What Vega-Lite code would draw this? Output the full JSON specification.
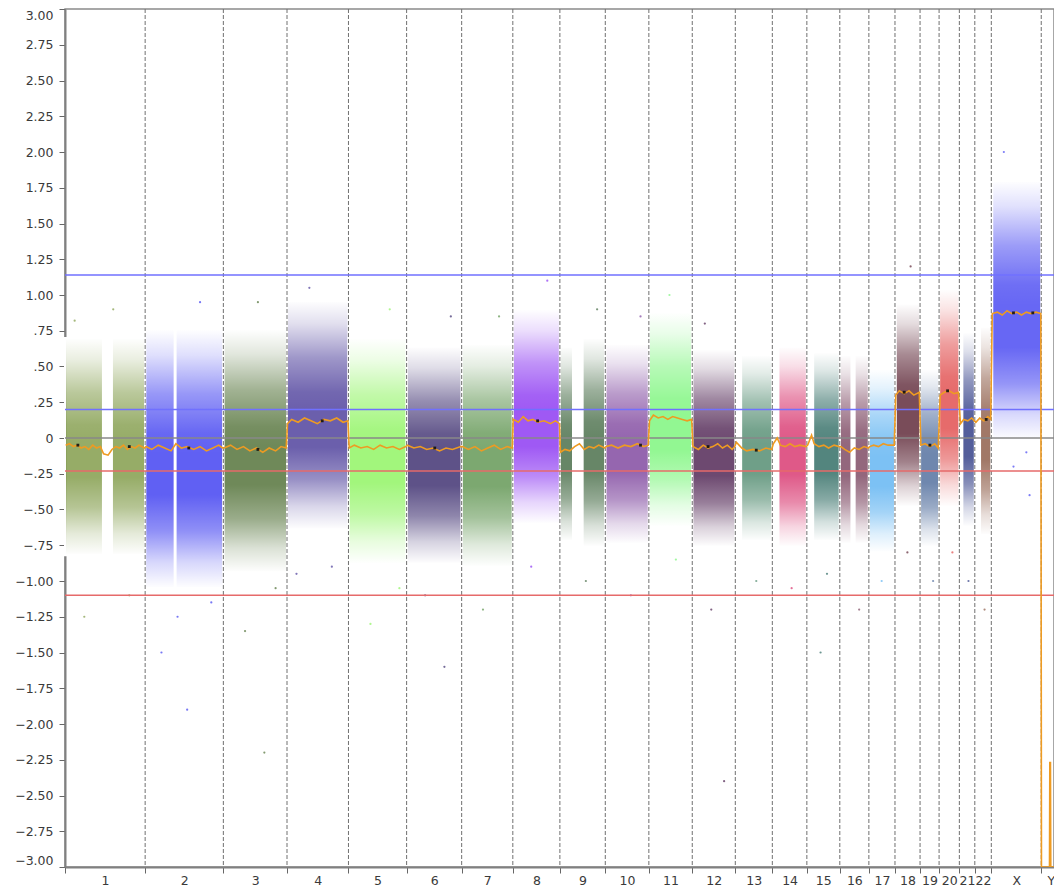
{
  "$schema": "https://vega.github.io/schema/vega-lite/v6.json",
  "width": 989,
  "height": 858,
  "autosize": {"type": "none"},
  "padding": {"left": 65, "top": 9, "right": 0, "bottom": 21},
  "background": "white",
  "config": {
    "view": {"stroke": "#8a8a8a", "strokeWidth": 1.5},
    "axis": {"labelFont": "DejaVu Sans", "labelFontSize": 12.5, "labelColor": "#3a3a3a", "domainColor": "#808080", "domainWidth": 2, "tickColor": "#666666", "grid": false, "title": null, "labelOverlap": false}
  },
  "datasets": {
    "clouds": [
      {"chr": "1", "s": 0, "e": 118, "lo": -0.82, "hi": 0.7},
      {"chr": "1", "s": 146, "e": 249.3, "lo": -0.82, "hi": 0.7},
      {"chr": "2", "s": 249.3, "e": 341, "lo": -1.05, "hi": 0.76},
      {"chr": "2", "s": 344, "e": 492.5, "lo": -1.05, "hi": 0.76},
      {"chr": "3", "s": 492.5, "e": 690.5, "lo": -0.94, "hi": 0.76},
      {"chr": "4", "s": 690.5, "e": 881.6, "lo": -0.64, "hi": 0.96},
      {"chr": "5", "s": 881.6, "e": 1062.5, "lo": -0.88, "hi": 0.7},
      {"chr": "6", "s": 1062.5, "e": 1233.7, "lo": -0.88, "hi": 0.64},
      {"chr": "7", "s": 1233.7, "e": 1392.8, "lo": -0.9, "hi": 0.66},
      {"chr": "8", "s": 1392.8, "e": 1539.2, "lo": -0.6, "hi": 0.9},
      {"chr": "9", "s": 1539.2, "e": 1580, "lo": -0.72, "hi": 0.64},
      {"chr": "9", "s": 1610, "e": 1680.4, "lo": -0.76, "hi": 0.7},
      {"chr": "10", "s": 1680.4, "e": 1815.9, "lo": -0.74, "hi": 0.66},
      {"chr": "11", "s": 1815.9, "e": 1950.9, "lo": -0.62, "hi": 0.88},
      {"chr": "12", "s": 1950.9, "e": 2084.8, "lo": -0.76, "hi": 0.62},
      {"chr": "13", "s": 2103, "e": 2199.9, "lo": -0.72, "hi": 0.58},
      {"chr": "14", "s": 2219, "e": 2307.3, "lo": -0.76, "hi": 0.64},
      {"chr": "15", "s": 2327, "e": 2409.8, "lo": -0.72, "hi": 0.6},
      {"chr": "16", "s": 2409.8, "e": 2446, "lo": -0.74, "hi": 0.58},
      {"chr": "16", "s": 2456, "e": 2500.2, "lo": -0.74, "hi": 0.58},
      {"chr": "17", "s": 2500.2, "e": 2581.4, "lo": -0.8, "hi": 0.48},
      {"chr": "18", "s": 2584, "e": 2659.4, "lo": -0.48, "hi": 0.94},
      {"chr": "19", "s": 2659.4, "e": 2718.6, "lo": -0.76, "hi": 0.48},
      {"chr": "20", "s": 2718.6, "e": 2781.6, "lo": -0.48, "hi": 1.04},
      {"chr": "21", "s": 2791, "e": 2829.7, "lo": -0.62, "hi": 0.74},
      {"chr": "22", "s": 2846, "e": 2881, "lo": -0.68, "hi": 0.78},
      {"chr": "X", "s": 2884, "e": 3036.3, "lo": -0.02, "hi": 1.8}
    ],
    "bounds": [
      {"b": 249.3}, {"b": 492.5}, {"b": 690.5}, {"b": 881.6}, {"b": 1062.5}, {"b": 1233.7}, {"b": 1392.8}, {"b": 1539.2},
      {"b": 1680.4}, {"b": 1815.9}, {"b": 1950.9}, {"b": 2084.8}, {"b": 2199.9}, {"b": 2307.3}, {"b": 2409.8}, {"b": 2500.2},
      {"b": 2581.4}, {"b": 2659.4}, {"b": 2718.6}, {"b": 2781.6}, {"b": 2829.7}, {"b": 2881.0}, {"b": 3036.3}
    ],
    "pts": [
      {"pos": 60, "v": -1.25, "chr": "1"}, {"pos": 150, "v": 0.9, "chr": "1"}, {"pos": 200, "v": -1.1, "chr": "1"}, {"pos": 30, "v": 0.82, "chr": "1"},
      {"pos": 300, "v": -1.5, "chr": "2"}, {"pos": 380, "v": -1.9, "chr": "2"}, {"pos": 420, "v": 0.95, "chr": "2"}, {"pos": 350, "v": -1.25, "chr": "2"}, {"pos": 455, "v": -1.15, "chr": "2"},
      {"pos": 560, "v": -1.35, "chr": "3"}, {"pos": 620, "v": -2.2, "chr": "3"}, {"pos": 600, "v": 0.95, "chr": "3"}, {"pos": 655, "v": -1.05, "chr": "3"},
      {"pos": 760, "v": 1.05, "chr": "4"}, {"pos": 830, "v": -0.9, "chr": "4"}, {"pos": 720, "v": -0.95, "chr": "4"},
      {"pos": 950, "v": -1.3, "chr": "5"}, {"pos": 1010, "v": 0.9, "chr": "5"}, {"pos": 1040, "v": -1.05, "chr": "5"},
      {"pos": 1120, "v": -1.1, "chr": "6"}, {"pos": 1200, "v": 0.85, "chr": "6"}, {"pos": 1180, "v": -1.6, "chr": "6"},
      {"pos": 1300, "v": -1.2, "chr": "7"}, {"pos": 1350, "v": 0.85, "chr": "7"},
      {"pos": 1450, "v": -0.9, "chr": "8"}, {"pos": 1500, "v": 1.1, "chr": "8"},
      {"pos": 1620, "v": -1.0, "chr": "9"}, {"pos": 1655, "v": 0.9, "chr": "9"},
      {"pos": 1760, "v": -1.1, "chr": "10"}, {"pos": 1790, "v": 0.85, "chr": "10"},
      {"pos": 1880, "v": 1.0, "chr": "11"}, {"pos": 1900, "v": -0.85, "chr": "11"},
      {"pos": 2010, "v": -1.2, "chr": "12"}, {"pos": 2050, "v": -2.4, "chr": "12"}, {"pos": 1990, "v": 0.8, "chr": "12"},
      {"pos": 2150, "v": -1.0, "chr": "13"}, {"pos": 2260, "v": -1.05, "chr": "14"}, {"pos": 2370, "v": -0.95, "chr": "15"}, {"pos": 2350, "v": -1.5, "chr": "15"},
      {"pos": 2470, "v": -1.2, "chr": "16"}, {"pos": 2540, "v": -1.0, "chr": "17"}, {"pos": 2620, "v": -0.8, "chr": "18"}, {"pos": 2630, "v": 1.2, "chr": "18"},
      {"pos": 2700, "v": -1.0, "chr": "19"}, {"pos": 2760, "v": -0.8, "chr": "20"}, {"pos": 2810, "v": -1.0, "chr": "21"}, {"pos": 2860, "v": -1.2, "chr": "22"},
      {"pos": 2950, "v": -0.2, "chr": "X"}, {"pos": 3000, "v": -0.4, "chr": "X"}, {"pos": 2920, "v": 2.0, "chr": "X"}, {"pos": 2990, "v": -0.1, "chr": "X"}
    ],
    "med": [
      {"pos": 2, "v": -0.05}, {"pos": 14, "v": -0.04}, {"pos": 26, "v": -0.06}, {"pos": 38, "v": -0.05}, {"pos": 50, "v": -0.07}, {"pos": 62, "v": -0.06},
      {"pos": 74, "v": -0.08}, {"pos": 86, "v": -0.05}, {"pos": 98, "v": -0.07}, {"pos": 110, "v": -0.06}, {"pos": 120, "v": -0.11}, {"pos": 134, "v": -0.12},
      {"pos": 146, "v": -0.08}, {"pos": 158, "v": -0.06}, {"pos": 170, "v": -0.07}, {"pos": 182, "v": -0.05}, {"pos": 194, "v": -0.08}, {"pos": 206, "v": -0.06},
      {"pos": 218, "v": -0.07}, {"pos": 230, "v": -0.05}, {"pos": 247, "v": -0.07},
      {"pos": 252, "v": -0.06}, {"pos": 270, "v": -0.08}, {"pos": 290, "v": -0.05}, {"pos": 310, "v": -0.07}, {"pos": 330, "v": -0.09}, {"pos": 345, "v": -0.04},
      {"pos": 362, "v": -0.07}, {"pos": 380, "v": -0.06}, {"pos": 400, "v": -0.08}, {"pos": 420, "v": -0.06}, {"pos": 440, "v": -0.09}, {"pos": 460, "v": -0.07},
      {"pos": 478, "v": -0.05}, {"pos": 490, "v": -0.07},
      {"pos": 495, "v": -0.07}, {"pos": 515, "v": -0.05}, {"pos": 535, "v": -0.08}, {"pos": 555, "v": -0.06}, {"pos": 575, "v": -0.09}, {"pos": 595, "v": -0.07},
      {"pos": 615, "v": -0.1}, {"pos": 635, "v": -0.07}, {"pos": 655, "v": -0.09}, {"pos": 672, "v": -0.06}, {"pos": 688, "v": -0.07},
      {"pos": 692, "v": 0.1}, {"pos": 705, "v": 0.13}, {"pos": 725, "v": 0.11}, {"pos": 745, "v": 0.14}, {"pos": 765, "v": 0.12}, {"pos": 785, "v": 0.1},
      {"pos": 805, "v": 0.13}, {"pos": 825, "v": 0.12}, {"pos": 845, "v": 0.14}, {"pos": 865, "v": 0.11}, {"pos": 880, "v": 0.12},
      {"pos": 884, "v": -0.07}, {"pos": 900, "v": -0.05}, {"pos": 920, "v": -0.07}, {"pos": 940, "v": -0.06}, {"pos": 960, "v": -0.08}, {"pos": 980, "v": -0.05},
      {"pos": 1000, "v": -0.07}, {"pos": 1020, "v": -0.06}, {"pos": 1040, "v": -0.08}, {"pos": 1060, "v": -0.06},
      {"pos": 1065, "v": -0.05}, {"pos": 1085, "v": -0.07}, {"pos": 1105, "v": -0.06}, {"pos": 1125, "v": -0.08}, {"pos": 1145, "v": -0.07}, {"pos": 1165, "v": -0.09},
      {"pos": 1185, "v": -0.07}, {"pos": 1205, "v": -0.08}, {"pos": 1231, "v": -0.06},
      {"pos": 1236, "v": -0.06}, {"pos": 1255, "v": -0.08}, {"pos": 1275, "v": -0.06}, {"pos": 1295, "v": -0.09}, {"pos": 1315, "v": -0.07}, {"pos": 1335, "v": -0.05},
      {"pos": 1355, "v": -0.08}, {"pos": 1375, "v": -0.06}, {"pos": 1391, "v": -0.07},
      {"pos": 1394, "v": 0.13}, {"pos": 1410, "v": 0.11}, {"pos": 1425, "v": 0.15}, {"pos": 1440, "v": 0.12}, {"pos": 1455, "v": 0.13}, {"pos": 1470, "v": 0.11},
      {"pos": 1490, "v": 0.12}, {"pos": 1510, "v": 0.1}, {"pos": 1525, "v": 0.12}, {"pos": 1538, "v": 0.1},
      {"pos": 1541, "v": -0.1}, {"pos": 1555, "v": -0.08}, {"pos": 1570, "v": -0.09}, {"pos": 1585, "v": -0.06}, {"pos": 1600, "v": -0.04}, {"pos": 1615, "v": -0.08},
      {"pos": 1630, "v": -0.06}, {"pos": 1645, "v": -0.07}, {"pos": 1660, "v": -0.05}, {"pos": 1679, "v": -0.07},
      {"pos": 1683, "v": -0.06}, {"pos": 1700, "v": -0.05}, {"pos": 1720, "v": -0.07}, {"pos": 1740, "v": -0.05}, {"pos": 1760, "v": -0.06}, {"pos": 1780, "v": -0.04},
      {"pos": 1800, "v": -0.06}, {"pos": 1814, "v": -0.05},
      {"pos": 1818, "v": 0.12}, {"pos": 1830, "v": 0.16}, {"pos": 1845, "v": 0.14}, {"pos": 1860, "v": 0.15}, {"pos": 1875, "v": 0.13}, {"pos": 1890, "v": 0.15},
      {"pos": 1905, "v": 0.14}, {"pos": 1920, "v": 0.13}, {"pos": 1935, "v": 0.12}, {"pos": 1949, "v": 0.13},
      {"pos": 1953, "v": -0.06}, {"pos": 1970, "v": -0.08}, {"pos": 1985, "v": -0.05}, {"pos": 2000, "v": -0.07}, {"pos": 2015, "v": -0.06}, {"pos": 2030, "v": -0.04},
      {"pos": 2045, "v": -0.07}, {"pos": 2060, "v": -0.05}, {"pos": 2075, "v": -0.08}, {"pos": 2083, "v": -0.06},
      {"pos": 2088, "v": -0.03}, {"pos": 2105, "v": -0.07}, {"pos": 2120, "v": -0.09}, {"pos": 2140, "v": -0.08}, {"pos": 2160, "v": -0.09}, {"pos": 2180, "v": -0.07},
      {"pos": 2198, "v": -0.08},
      {"pos": 2203, "v": -0.04}, {"pos": 2215, "v": 0.0}, {"pos": 2225, "v": -0.05}, {"pos": 2240, "v": -0.06}, {"pos": 2255, "v": -0.04}, {"pos": 2270, "v": -0.06},
      {"pos": 2285, "v": -0.05}, {"pos": 2305, "v": -0.06},
      {"pos": 2310, "v": -0.05}, {"pos": 2322, "v": 0.02}, {"pos": 2330, "v": -0.04}, {"pos": 2345, "v": -0.06}, {"pos": 2360, "v": -0.05}, {"pos": 2375, "v": -0.07},
      {"pos": 2392, "v": -0.05}, {"pos": 2408, "v": -0.06},
      {"pos": 2413, "v": -0.06}, {"pos": 2425, "v": -0.08}, {"pos": 2440, "v": -0.1}, {"pos": 2455, "v": -0.07}, {"pos": 2470, "v": -0.08}, {"pos": 2485, "v": -0.06},
      {"pos": 2498, "v": -0.07},
      {"pos": 2503, "v": -0.06}, {"pos": 2515, "v": -0.05}, {"pos": 2530, "v": -0.06}, {"pos": 2545, "v": -0.04}, {"pos": 2560, "v": -0.05}, {"pos": 2579, "v": -0.05},
      {"pos": 2584, "v": 0.3}, {"pos": 2595, "v": 0.33}, {"pos": 2610, "v": 0.31}, {"pos": 2625, "v": 0.33}, {"pos": 2640, "v": 0.3}, {"pos": 2657, "v": 0.32},
      {"pos": 2662, "v": -0.05}, {"pos": 2675, "v": -0.04}, {"pos": 2690, "v": -0.06}, {"pos": 2705, "v": -0.04}, {"pos": 2716, "v": -0.07},
      {"pos": 2722, "v": 0.3}, {"pos": 2735, "v": 0.32}, {"pos": 2750, "v": 0.33}, {"pos": 2765, "v": 0.31}, {"pos": 2779, "v": 0.32},
      {"pos": 2785, "v": 0.1}, {"pos": 2795, "v": 0.13}, {"pos": 2808, "v": 0.12}, {"pos": 2820, "v": 0.14}, {"pos": 2828, "v": 0.12},
      {"pos": 2833, "v": 0.11}, {"pos": 2845, "v": 0.14}, {"pos": 2858, "v": 0.12}, {"pos": 2870, "v": 0.15}, {"pos": 2879, "v": 0.13},
      {"pos": 2884, "v": 0.87}, {"pos": 2900, "v": 0.88}, {"pos": 2915, "v": 0.86}, {"pos": 2930, "v": 0.89}, {"pos": 2945, "v": 0.87}, {"pos": 2960, "v": 0.88},
      {"pos": 2975, "v": 0.86}, {"pos": 2990, "v": 0.88}, {"pos": 3005, "v": 0.87}, {"pos": 3020, "v": 0.88}, {"pos": 3035, "v": 0.87},
      {"pos": 3037, "v": -3.0}, {"pos": 3062, "v": -3.0}, {"pos": 3063, "v": -2.27}, {"pos": 3065, "v": -2.27}, {"pos": 3066, "v": -3.0}, {"pos": 3090, "v": -3.0}
    ],
    "seg": [
      {"pos": 40, "v": -0.05}, {"pos": 200, "v": -0.06}, {"pos": 385, "v": -0.07}, {"pos": 600, "v": -0.08}, {"pos": 800, "v": 0.12},
      {"pos": 1150, "v": -0.07}, {"pos": 1470, "v": 0.12}, {"pos": 1790, "v": -0.05}, {"pos": 2000, "v": -0.06}, {"pos": 2150, "v": -0.085},
      {"pos": 2610, "v": 0.32}, {"pos": 2690, "v": -0.05}, {"pos": 2745, "v": 0.33}, {"pos": 2865, "v": 0.13}, {"pos": 2950, "v": 0.875}, {"pos": 3010, "v": 0.875}
    ]
  },
  "layer": [
    {
      "data": {"name": "clouds"},
      "mark": {"type": "rect", "opacity": 0.82},
      "encoding": {
        "x": {"field": "s", "type": "quantitative", "scale": {"domain": [0, 3076], "nice": false, "zero": false},
          "axis": {"values": [0, 124.6, 249.3, 370.9, 492.5, 591.5, 690.5, 786, 881.6, 972, 1062.5, 1148.1, 1233.7, 1313.2, 1392.8, 1466, 1539.2, 1609.8, 1680.4, 1748.1, 1815.9, 1883.4, 1950.9, 2017.8, 2084.8, 2142.3, 2199.9, 2253.6, 2307.3, 2358.5, 2409.8, 2455, 2500.2, 2540.8, 2581.4, 2620.4, 2659.4, 2689, 2718.6, 2750.1, 2781.6, 2805.6, 2829.7, 2855.3, 2881.0, 2958.6, 3036.3, 3066],
            "tickCount": 200,
            "labelFontSize": 12.5,
            "labelExpr": "indexof([124.6, 370.9, 591.5, 786, 972, 1148.1, 1313.2, 1466, 1609.8, 1748.1, 1883.4, 2017.8, 2142.3, 2253.6, 2358.5, 2455, 2540.8, 2620.4, 2689, 2750.1, 2805.6, 2855.3, 2958.6, 3066], datum.value) < 0 ? '' : ['1','2','3','4','5','6','7','8','9','10','11','12','13','14','15','16','17','18','19','20','21','22','X','Y'][indexof([124.6, 370.9, 591.5, 786, 972, 1148.1, 1313.2, 1466, 1609.8, 1748.1, 1883.4, 2017.8, 2142.3, 2253.6, 2358.5, 2455, 2540.8, 2620.4, 2689, 2750.1, 2805.6, 2855.3, 2958.6, 3066], datum.value)]",
            "tickSize": 6,
            "tickOpacity": {"condition": {"test": "indexof([124.6, 370.9, 591.5, 786, 972, 1148.1, 1313.2, 1466, 1609.8, 1748.1, 1883.4, 2017.8, 2142.3, 2253.6, 2358.5, 2455, 2540.8, 2620.4, 2689, 2750.1, 2805.6, 2855.3, 2958.6, 3066], datum.value) >= 0", "value": 0}, "value": 1},
            "labelPadding": 1, "labelOverlap": false, "labelFlush": false}},
        "x2": {"field": "e"},
        "y": {"field": "lo", "type": "quantitative", "scale": {"domain": [-3, 3], "nice": false, "zero": false},
          "axis": {"values": [-3, -2.75, -2.5, -2.25, -2, -1.75, -1.5, -1.25, -1, -0.75, -0.5, -0.25, 0, 0.25, 0.5, 0.75, 1, 1.25, 1.5, 1.75, 2, 2.25, 2.5, 2.75, 3],
            "tickCount": 200,
            "labelFontSize": 12.5,
            "labelExpr": "datum.value == 0 ? '0' : (abs(datum.value) < 1 ? (datum.value < 0 ? '−' : '') + substring(format(abs(datum.value), '.2f'), 1) : format(datum.value, '.2f'))",
            "tickSize": 6, "labelPadding": 6, "labelFlush": true, "labelOverlap": false}},
        "y2": {"field": "hi"},
        "color": {"field": "chr", "type": "nominal", "legend": null,
          "scale": {"domain": ["1","2","3","4","5","6","7","8","9","10","11","12","13","14","15","16","17","18","19","20","21","22","X","Y"],
            "range": ["#7f9a45","#3d3df0","#4f6f35","#4b3c9a","#8df45f","#3b2c6e","#5f9550","#8a35f2","#456b45","#7e449e","#7af57a","#4d2150","#4f8a6e","#d8346e","#2d6a62","#7b4660","#5fb3f2","#5c2535","#4f6c9c","#e04a4a","#2e3b85","#8c5a46","#4646f2","#f0a030"]}}
      }
    },
    {
      "data": {"name": "clouds"},
      "mark": {"type": "rect", "stroke": "white", "strokeWidth": 2, "fill": {"gradient": "linear", "x1": 0, "y1": 0, "x2": 0, "y2": 1,
        "stops": [
          {"offset": 0, "color": "rgba(255,255,255,1)"},
          {"offset": 0.1, "color": "rgba(255,255,255,0.8)"},
          {"offset": 0.25, "color": "rgba(255,255,255,0.35)"},
          {"offset": 0.4, "color": "rgba(255,255,255,0.05)"},
          {"offset": 0.48, "color": "rgba(255,255,255,0)"},
          {"offset": 0.64, "color": "rgba(255,255,255,0)"},
          {"offset": 0.78, "color": "rgba(255,255,255,0.3)"},
          {"offset": 0.9, "color": "rgba(255,255,255,0.75)"},
          {"offset": 1, "color": "rgba(255,255,255,1)"}
        ]}},
      "encoding": {
        "x": {"field": "s", "type": "quantitative"},
        "x2": {"field": "e"},
        "y": {"field": "lo", "type": "quantitative"},
        "y2": {"field": "hi"}
      }
    },
    {
      "data": {"name": "pts"},
      "mark": {"type": "circle", "size": 5, "opacity": 0.7},
      "encoding": {
        "x": {"field": "pos", "type": "quantitative"},
        "y": {"field": "v", "type": "quantitative"},
        "color": {"field": "chr", "type": "nominal", "legend": null}
      }
    },
    {
      "data": {"name": "bounds"},
      "mark": {"type": "rule", "color": "#707070", "strokeWidth": 1, "strokeDash": [4, 2]},
      "encoding": {
        "x": {"field": "b", "type": "quantitative"}
      }
    },
    {
      "data": {"values": [{"t": 1.14}, {"t": 0.2}]},
      "mark": {"type": "rule", "color": "#7070ff", "strokeWidth": 1.5},
      "encoding": {"y": {"field": "t", "type": "quantitative"}}
    },
    {
      "data": {"values": [{"t": 0}]},
      "mark": {"type": "rule", "color": "#888888", "strokeWidth": 1.5},
      "encoding": {"y": {"field": "t", "type": "quantitative"}}
    },
    {
      "data": {"values": [{"t": -0.23}, {"t": -1.1}]},
      "mark": {"type": "rule", "color": "#e66a6a", "strokeWidth": 1.5},
      "encoding": {"y": {"field": "t", "type": "quantitative"}}
    },
    {
      "data": {"name": "med"},
      "mark": {"type": "line", "color": "#ee9b22", "strokeWidth": 1.6, "clip": true},
      "encoding": {
        "x": {"field": "pos", "type": "quantitative"},
        "y": {"field": "v", "type": "quantitative"}
      }
    },
    {
      "data": {"name": "seg"},
      "mark": {"type": "square", "color": "#111111", "size": 8, "opacity": 0.9},
      "encoding": {
        "x": {"field": "pos", "type": "quantitative"},
        "y": {"field": "v", "type": "quantitative"}
      }
    }
  ]
}
